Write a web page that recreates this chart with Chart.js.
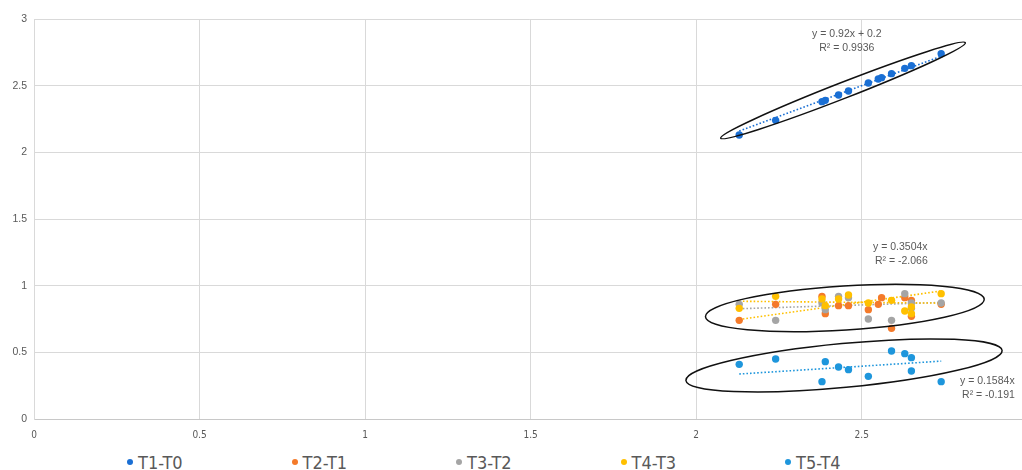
<!DOCTYPE html>
<html>
<head>
<meta charset="utf-8">
<script src="https://cdn.jsdelivr.net/npm/chart.js@4.4.1/dist/chart.umd.min.js"></script>
<style>
  html, body { margin: 0; padding: 0; background: #fff; }
  #wrap { position: relative; width: 1022px; height: 470px; overflow: hidden; }
  #chartBox { position: absolute; left: 0; top: 0; width: 1027px; height: 445px; }
  #legend { position: absolute; left: 0; top: 451px; width: 1022px; height: 22px; }
  .item { position: absolute; top: 0; height: 22px; display: flex; align-items: center;
          font-family: "Liberation Sans Narrow", "DejaVu Sans Condensed", Arial, sans-serif; font-size: 18px; color: #595959; white-space: nowrap; }
  .dot { width: 6px; height: 6px; border-radius: 50%; margin-right: 5px; }
</style>
</head>
<body>
<div id="wrap">
  <!-- the canvas is a few px wider than the view so the plot area reaches the right edge -->
  <div id="chartBox"><canvas id="chart" width="1027" height="445"></canvas></div>
  <div id="legend"></div>
</div>
<script>
// Series values (x = baseline, y = interval)
const seriesNames = ['T1-T0', 'T2-T1', 'T3-T2', 'T4-T3', 'T5-T4'];

const t1t0X = [2.13, 2.24, 2.38, 2.39, 2.43, 2.46, 2.52, 2.55, 2.56, 2.59, 2.63, 2.65, 2.74];
const t1t0Y = [2.13, 2.24, 2.38, 2.39, 2.43, 2.46, 2.52, 2.55, 2.56, 2.59, 2.63, 2.65, 2.74];

const t2t1X = [2.13, 2.24, 2.38, 2.39, 2.43, 2.46, 2.52, 2.55, 2.56, 2.59, 2.63, 2.65, 2.65, 2.74];
const t2t1Y = [0.74, 0.86, 0.92, 0.79, 0.85, 0.85, 0.82, 0.86, 0.91, 0.68, 0.91, 0.89, 0.77, 0.86];

const t3t2X = [2.13, 2.24, 2.38, 2.39, 2.43, 2.46, 2.52, 2.59, 2.63, 2.65, 2.65, 2.74];
const t3t2Y = [0.86, 0.74, 0.87, 0.82, 0.92, 0.91, 0.75, 0.74, 0.94, 0.87, 0.83, 0.87];

const t4t3X = [2.13, 2.24, 2.38, 2.39, 2.43, 2.46, 2.52, 2.59, 2.63, 2.65, 2.65, 2.74];
const t4t3Y = [0.83, 0.92, 0.90, 0.85, 0.90, 0.93, 0.87, 0.89, 0.81, 0.84, 0.79, 0.94];

const t5t4X = [2.13, 2.24, 2.38, 2.39, 2.43, 2.46, 2.52, 2.59, 2.63, 2.65, 2.65, 2.74];
const t5t4Y = [0.41, 0.45, 0.28, 0.43, 0.39, 0.37, 0.32, 0.51, 0.49, 0.46, 0.36, 0.28];

// Axis ticks
const xTicks = [0, 0.5, 1, 1.5, 2, 2.5];
const yTicks = [0, 0.5, 1, 1.5, 2, 2.5, 3];

// Trendline coefficients (slope, intercept) and their printed labels
const trendSlopes     = [0.92, 0.3504, -0.023, 0.077, 0.1584];
const trendIntercepts = [0.2, 0, 0.932, 0.663, 0];
const trendSeries     = [0, 3, 3, 2, 4];
const trendLabels     = [['y = 0.92x + 0.2', 'R² = 0.9936'], ['y = 0.3504x', 'R² = -2.066'], null, null, ['y = 0.1584x', 'R² = -0.191']];

// ---- styling / layout ----
const colors = ['#1a6fd4', '#f47a2a', '#a5a5a5', '#ffc000', '#1e96dc'];
const seriesX = [t1t0X, t2t1X, t3t2X, t4t3X, t5t4X];
const seriesY = [t1t0Y, t2t1Y, t3t2Y, t4t3Y, t5t4Y];

// label anchors in data units: [x, y, align]
const labelAnchors = [[2.455, 2.888, 'center'], [2.534, 1.291, 'left'], null, null, [2.797, 0.282, 'left']];

// outlined groups: tips in data units, half-width in px
const groupOutlines = [
  { from: [2.074, 2.106], to: [2.813, 2.822], half: 8 },
  { from: [2.028, 0.767], to: [2.870, 0.899], half: 22 },
  { from: [1.969, 0.289], to: [2.924, 0.514], half: 22 }
];

const pointSets = seriesNames.map((name, i) => ({
  type: 'scatter',
  label: name,
  data: seriesX[i].map((x, k) => ({ x, y: seriesY[i][k] })),
  backgroundColor: colors[i],
  borderWidth: 0,
  pointRadius: 3.7,
  pointHoverRadius: 3.7,
  order: 5 - i
}));

const trendSets = trendSlopes.map((m, j) => {
  const s = trendSeries[j];
  const xs = seriesX[s];
  const x0 = Math.min(...xs), x1 = Math.max(...xs);
  return {
    type: 'line',
    label: 'trend' + j,
    isTrend: true,
    data: [{ x: x0, y: m * x0 + trendIntercepts[j] }, { x: x1, y: m * x1 + trendIntercepts[j] }],
    borderColor: colors[s],
    borderWidth: 1.6,
    borderDash: [1.6, 2],
    pointRadius: 0,
    showLine: true,
    fill: false,
    order: 10
  };
});

const annotationsPlugin = {
  id: 'groupAnnotations',
  afterDatasetsDraw(chart) {
    const { ctx, scales: { x, y } } = chart;
    ctx.save();
    // outlines
    ctx.strokeStyle = '#111';
    ctx.lineWidth = 1.5;
    groupOutlines.forEach(g => {
      const ax = x.getPixelForValue(g.from[0]), ay = y.getPixelForValue(g.from[1]);
      const bx = x.getPixelForValue(g.to[0]),   by = y.getPixelForValue(g.to[1]);
      const cx = (ax + bx) / 2, cy = (ay + by) / 2;
      const a = Math.hypot(bx - ax, by - ay) / 2;
      const ang = Math.atan2(by - ay, bx - ax);
      ctx.beginPath();
      ctx.ellipse(cx, cy, a, g.half, ang, 0, Math.PI * 2);
      ctx.stroke();
    });
    // trendline labels
    ctx.fillStyle = '#595959';
    ctx.font = '10.5px "Liberation Sans", Arial, sans-serif';
    ctx.textBaseline = 'middle';
    trendLabels.forEach((lines, j) => {
      if (!lines) return;
      const [lx, ly, align] = labelAnchors[j];
      const px = x.getPixelForValue(lx), py = y.getPixelForValue(ly);
      ctx.textAlign = align;
      lines.forEach((t, k) => ctx.fillText(t, px + (k === 1 && align === 'left' ? 2 : 0), py + k * 14));
    });
    ctx.restore();
  }
};

const tickFont = { size: 10, family: '"Liberation Sans Narrow", "DejaVu Sans Condensed", Arial, sans-serif' };

const chart = new Chart(document.getElementById('chart'), {
  type: 'scatter',
  data: { datasets: [...pointSets, ...trendSets] },
  options: {
    responsive: false,
    devicePixelRatio: 1,
    animation: false,
    layout: { padding: { top: 19, right: 0, left: 0, bottom: 0 } },
    plugins: { legend: { display: false }, tooltip: { enabled: false } },
    scales: {
      x: {
        type: 'linear',
        min: 0,
        max: 2.988,
        afterBuildTicks(scale) { scale.ticks = xTicks.map(v => ({ value: v })); },
        afterFit(scale) { scale.height = 26; },
        ticks: { color: '#595959', font: tickFont, padding: 10, maxRotation: 0, callback: v => String(v) },
        grid: { color: '#d9d9d9', lineWidth: 1, drawTicks: false },
        border: { color: '#c8c8c8', width: 1 }
      },
      y: {
        type: 'linear',
        min: 0,
        max: 3,
        afterBuildTicks(scale) { scale.ticks = yTicks.map(v => ({ value: v })); },
        afterFit(scale) { scale.width = 34; },
        ticks: { color: '#595959', font: { size: 10.5, family: '"Liberation Sans", Arial, sans-serif' }, padding: 7, callback: v => String(v) },
        grid: { color: '#d9d9d9', lineWidth: 1, drawTicks: false },
        border: { color: '#d9d9d9', width: 1 }
      }
    }
  },
  plugins: [annotationsPlugin]
});

// legend built from the chart's point datasets
const legendEl = document.getElementById('legend');
chart.data.datasets.filter(d => !d.isTrend).forEach((d, i) => {
  const item = document.createElement('div');
  item.className = 'item';
  item.style.left = (127 + i * 164.5) + 'px';
  const dot = document.createElement('span');
  dot.className = 'dot';
  dot.style.background = d.backgroundColor;
  const txt = document.createElement('span');
  txt.textContent = d.label;
  item.appendChild(dot);
  item.appendChild(txt);
  legendEl.appendChild(item);
});
</script>
</body>
</html>
